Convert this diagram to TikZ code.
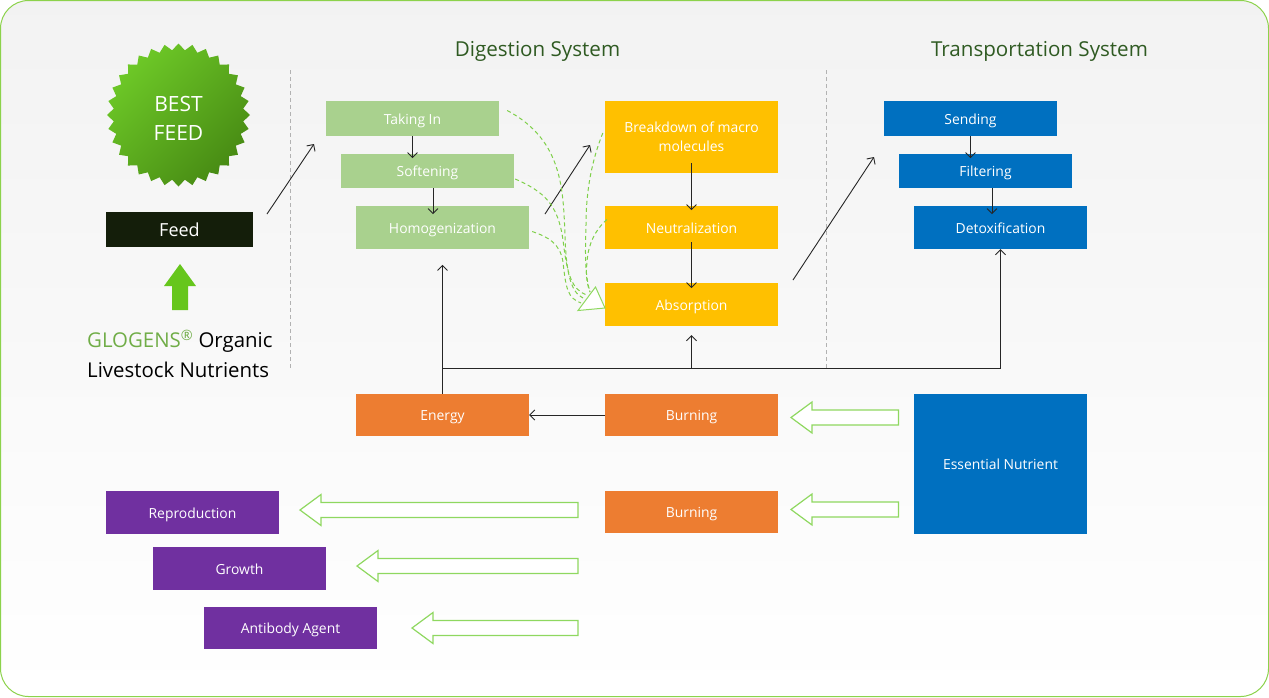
\documentclass[tikz,border=0pt]{standalone}
\usepackage{fontspec}
\setmainfont{Open Sans}
\usetikzlibrary{arrows.meta,shapes.geometric,calc}
\definecolor{frameg}{HTML}{8CD24B}
\definecolor{paleg}{HTML}{A9D18E}
\definecolor{goldb}{HTML}{FFC000}
\definecolor{blueb}{HTML}{0070C0}
\definecolor{orangeb}{HTML}{ED7D31}
\definecolor{purpleb}{HTML}{7030A0}
\definecolor{feedb}{HTML}{141E0A}
\definecolor{titleg}{HTML}{2F5A22}
\definecolor{logog}{HTML}{70AD47}
\definecolor{dashg}{HTML}{7FD04A}
\definecolor{hollowg}{HTML}{8FD860}
\definecolor{upg}{HTML}{66C61C}
\tikzset{
  x=1pt,y=-1pt,
  box/.style={minimum width=173pt,inner sep=0pt,align=center,text=white,
    text height=12pt,text depth=1pt,font=\fontsize{13.9}{19}\selectfont},
  pale/.style={box,fill=paleg},
  gold/.style={box,fill=goldb},
  blue box/.style={box,fill=blueb},
  orange box/.style={box,fill=orangeb},
  purple box/.style={box,fill=purpleb},
  conn/.style={draw=black!85,line width=.9pt,-{Straight Barb[length=5pt,width=10pt]}},
  plain/.style={draw=black!85,line width=.9pt},
  dashc/.style={draw=dashg,line width=1pt,dash pattern=on 4pt off 3pt},
  hollow/.style={draw=hollowg,fill=white,line width=1.2pt,line join=miter},
  divider/.style={draw=black!30,line width=.6pt,dash pattern=on 4pt off 3pt},
  title/.style={text=titleg,font=\fontsize{20.6}{24}\selectfont,inner sep=0pt},
}
% tip x, centre y, head base x, tail x
\newcommand{\hollowarrow}[4]{\draw[hollow] (#1,#2) -- (#3,#2-15.5) -- (#3,#2-7.5) -- (#4,#2-7.5) -- (#4,#2+7.5) -- (#3,#2+7.5) -- (#3,#2+15.5) -- cycle;}
\begin{document}
\begin{tikzpicture}
\useasboundingbox (0,0) rectangle (1269,697);
\fill[white] (0,0) rectangle (1269,697);
\draw[draw=frameg,line width=1pt,rounded corners=28pt,top color=black!5,middle color=black!1,bottom color=white]
  (.5,.5) rectangle (1268.5,696.5);

% dividers
\draw[divider] (290,70) -- (290,368);
\draw[divider] (826,70) -- (826,368);

% titles
\node[title] (tdig) at (537.5,51) {Digestion System};
\node[title] (ttrans) at (1039.5,51) {Transportation System};

% badge
\node[star,star points=32,star point ratio=1.1,minimum size=143pt,inner sep=0pt,
  left color=upg!95!white,right color=upg!70!black,shading angle=45] (badge) at (178.5,115) {};
\node[align=center,text=white,inner sep=0pt,font=\fontsize{21}{29}\selectfont] (badgetext) at (178.5,118.5) {BEST\\FEED};

% feed
\node[fill=feedb,text=white,minimum width=147pt,minimum height=35pt,inner sep=0pt,
  font=\fontsize{18}{19}\selectfont] (feed) at (179.5,229.5) {Feed};
\fill[upg] (180,264) -- (196,286) -- (188,286) -- (188,310) -- (172,310) -- (172,286) -- (164,286) -- cycle;
\node[align=left,anchor=north west,inner sep=0pt,font=\fontsize{20.4}{29.5}\selectfont] (logo) at (87,329.5)
  {\textcolor{logog}{GLOGENS\textsuperscript{®}} Organic\\Livestock Nutrients};

% digestion boxes
\node[pale,minimum height=35pt] (take) at (412.5,118.5) {Taking In};
\node[pale,minimum height=34pt] (soft) at (427.5,171) {Softening};
\node[pale,minimum height=43pt] (homo) at (442.5,227.5) {Homogenization};
\node[gold,minimum height=72pt,text height=,text depth=] (brk) at (691.5,137) {Breakdown of macro\\molecules};
\node[gold,minimum height=43pt] (neut) at (691.5,227.5) {Neutralization};
\node[gold,minimum height=43pt] (abs) at (691.5,304.5) {Absorption};

% transportation boxes
\node[blue box,minimum height=35pt] (send) at (970.5,118.5) {Sending};
\node[blue box,minimum height=34pt] (filt) at (985.5,171) {Filtering};
\node[blue box,minimum height=43pt] (detox) at (1000.5,227.5) {Detoxification};

% lower boxes
\node[orange box,minimum height=42pt] (energy) at (442.5,415) {Energy};
\node[orange box,minimum height=42pt] (burna) at (691.5,415) {Burning};
\node[orange box,minimum height=42pt] (burnb) at (691.5,512) {Burning};
\node[blue box,minimum height=140pt] (ess) at (1000.5,464) {Essential Nutrient};
\node[purple box,minimum height=43pt] (repro) at (192.5,512.5) {Reproduction};
\node[purple box,minimum height=43pt] (growth) at (239.5,568.5) {Growth};
\node[purple box,minimum height=42pt] (anti) at (290.5,628) {Antibody Agent};

% free ends
\coordinate (feedfrom) at (267,214);
\coordinate (feedto) at (314,144);
\coordinate (homofrom) at (545,214);
\coordinate (homoto) at (590,145);
\coordinate (absfrom) at (793,280);
\coordinate (absto) at (874,157);
\coordinate (bus) at (442.5,368.5);
\coordinate (busmid) at (691.5,368.5);
\coordinate (buscorner) at (1000.5,368.5);

% arrows
\draw[conn] (feedfrom) -- (feedto);
\draw[conn] (homofrom) -- (homoto);
\draw[conn] (absfrom) -- (absto);
\draw[conn] (take.south) -- ++(0,22);
\draw[conn] (soft.south) ++(5.5,0) -- ++(0,26);
\draw[conn] (brk.south) ++(0,-10) -- ++(0,47);
\draw[conn] (neut.south) ++(0,-7) -- ++(0,46);
\draw[conn] (send.south) -- ++(0,22);
\draw[conn] (filt.south) ++(6.5,0) -- ++(0,26);
\draw[conn] (burna.west) -- (energy.east);
\draw[conn] (energy.north) -- ++(0,-129);
\draw[plain] (bus) -- (buscorner);
\draw[conn] (buscorner) -- (detox.south);
\draw[conn] (busmid) -- ($(abs.south)+(0,9)$);

% dashed flows
\coordinate (headtip) at (578,310.5);
\draw[dashc] ($(take.east)+(8,-8)$) .. controls (563,140) and (563,190) .. (565,235) .. controls (566,270) and (570,292) .. (583,298);
\draw[dashc] ($(soft.east)+(1,8)$) .. controls (545,192) and (558,205) .. (563,240) .. controls (567,275) and (572,290) .. (587,295);
\draw[dashc] ($(homo.east)+(3,4)$) .. controls (548,237) and (560,243) .. (563,262) .. controls (566,290) and (568,298) .. (581,303);
\draw[dashc] ($(brk.west)+(-2,-4)$) .. controls (592,160) and (586,190) .. (586,225) .. controls (585,255) and (585,275) .. (590,292);
\draw[dashc] ($(neut.west)+(2,-8)$) .. controls (595,230) and (588,245) .. (587,262) .. controls (586,272) and (586,282) .. (590,292);
\draw[hollow,line width=1pt] (headtip) -- (595.5,287) -- (605,308) -- cycle;

% hollow block arrows
\hollowarrow{791}{417.5}{812}{898.5}
\hollowarrow{791}{509.5}{812}{898.5}
\hollowarrow{300}{510}{321}{578}
\hollowarrow{357}{566}{378}{578}
\hollowarrow{412}{628}{433}{578}
\end{tikzpicture}
\end{document}
